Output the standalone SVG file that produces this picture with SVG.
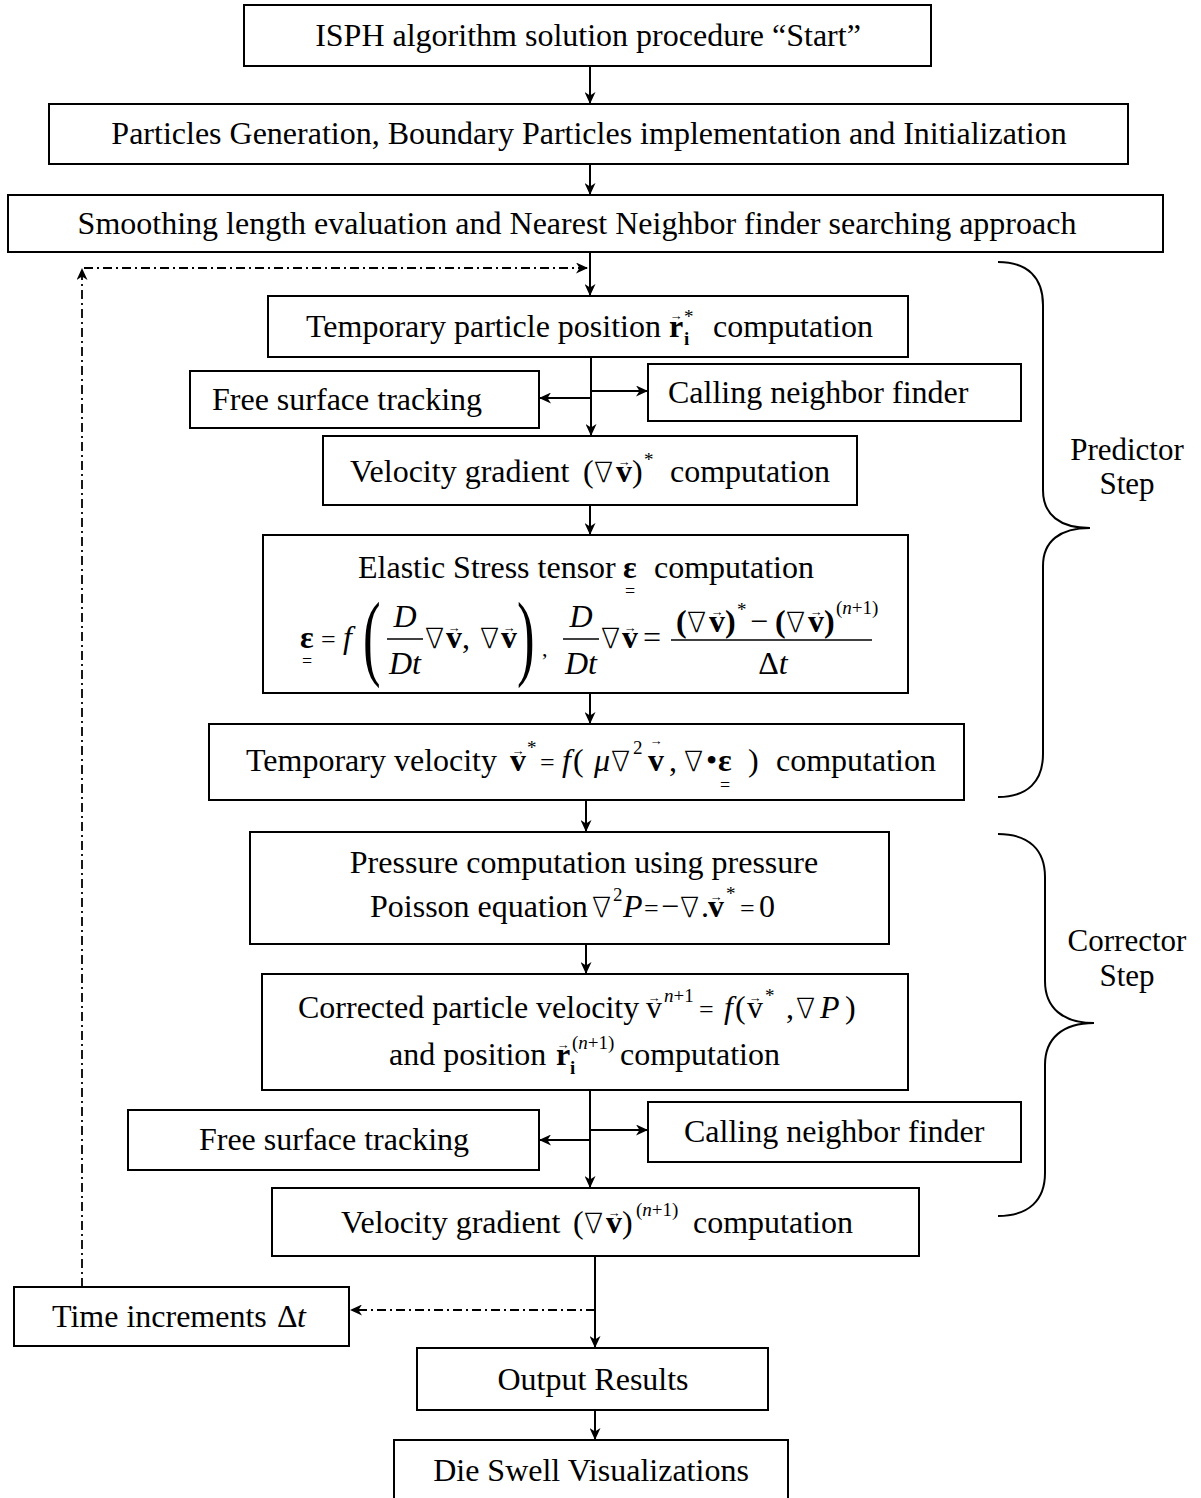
<svg xmlns="http://www.w3.org/2000/svg" width="1201" height="1498" viewBox="0 0 1201 1498">
<defs>
<style>
.box{fill:#fff;stroke:#000;stroke-width:2}
.t{font-family:"Liberation Serif","Times New Roman","DejaVu Serif",serif;font-size:32px;fill:#000}
.m{text-anchor:middle}
.s{font-size:19px}
.b{font-weight:bold}
.i{font-style:italic}
.u{font-size:18px;text-anchor:middle}
.q{font-size:26px}
.nb{font-family:"DejaVu Sans","DejaVu Serif",sans-serif;font-weight:200;font-size:28px}
.acc{font-family:"Liberation Serif","DejaVu Serif",serif;font-size:13px;font-weight:normal;font-style:normal;text-anchor:middle}
.lab{font-size:31px}
.c{fill:none;stroke:#000;stroke-width:2}
.dd{stroke-dasharray:9 4 2 4;stroke-width:1.8}
.bar{stroke:#000;stroke-width:1.5}
.brace{fill:none;stroke:#000;stroke-width:2}
</style>
<marker id="ah" viewBox="0 0 12 11" refX="12" refY="5.5" markerWidth="12" markerHeight="11" markerUnits="userSpaceOnUse" orient="auto"><path d="M0,0 L12,5.5 L0,11 L3.5,5.5 Z" fill="#000"/></marker>
</defs>
<rect x="0" y="0" width="1201" height="1498" fill="#fff"/>

<g id="connectors">
<path class="c" d="M590,66 V104" marker-end="url(#ah)"/>
<path class="c" d="M590,164 V195" marker-end="url(#ah)"/>
<path class="c" d="M590,252 V296" marker-end="url(#ah)"/>
<path class="c" d="M591,357 V436" marker-end="url(#ah)"/>
<path class="c" d="M591,391 H648" marker-end="url(#ah)"/>
<path class="c" d="M591,398 H539" marker-end="url(#ah)"/>
<path class="c" d="M590,505 V535" marker-end="url(#ah)"/>
<path class="c" d="M590,693 V724" marker-end="url(#ah)"/>
<path class="c" d="M586,800 V832" marker-end="url(#ah)"/>
<path class="c" d="M586,944 V974" marker-end="url(#ah)"/>
<path class="c" d="M590,1090 V1188" marker-end="url(#ah)"/>
<path class="c" d="M590,1130 H648" marker-end="url(#ah)"/>
<path class="c" d="M590,1140 H539" marker-end="url(#ah)"/>
<path class="c" d="M595,1256 V1348" marker-end="url(#ah)"/>
<path class="c" d="M595,1410 V1440" marker-end="url(#ah)"/>
<path class="c dd" d="M595,1310 H350" marker-end="url(#ah)"/>
<path class="c dd" d="M82,1287 V268" marker-end="url(#ah)"/>
<path class="c dd" d="M84,268 H588" marker-end="url(#ah)"/>
</g>

<g id="n1">
<rect class="box" x="244" y="5" width="687" height="61"/>
<text class="t m" x="588" y="46">ISPH algorithm solution procedure “Start”</text>
</g>
<g id="n2">
<rect class="box" x="49" y="104" width="1079" height="60"/>
<text class="t m" x="589" y="144">Particles Generation, Boundary Particles implementation and Initialization</text>
</g>
<g id="n3">
<rect class="box" x="8" y="195" width="1155" height="57"/>
<text class="t m" x="577" y="234">Smoothing length evaluation and Nearest Neighbor finder searching approach</text>
</g>
<g id="n4">
<rect class="box" x="268" y="296" width="640" height="61"/>
<text class="t" y="337"><tspan x="306">Temporary particle position</tspan><tspan x="669" class="b">r</tspan><tspan x="676" y="320" class="acc">→</tspan><tspan x="684" y="345" class="s b">i</tspan><tspan x="684" y="323" class="s">*</tspan><tspan x="713" y="337">computation</tspan></text>
</g>
<g id="n5">
<rect class="box" x="190" y="371" width="349" height="57"/>
<text class="t" x="212" y="410">Free surface tracking</text>
</g>
<g id="n6">
<rect class="box" x="648" y="364" width="373" height="57"/>
<text class="t" x="668" y="403">Calling neighbor finder</text>
</g>
<g id="n7">
<rect class="box" x="323" y="436" width="534" height="69"/>
<text class="t" y="482"><tspan x="350">Velocity gradient</tspan><tspan x="583">(</tspan><tspan x="594" class="nb">∇</tspan><tspan x="616" class="b">v</tspan><tspan x="624" y="466" class="acc">→</tspan><tspan x="632" y="482">)</tspan><tspan x="644" y="466" class="s">*</tspan><tspan x="670" y="482">computation</tspan></text>
</g>
<g id="n8">
<rect class="box" x="263" y="535" width="645" height="158"/>
<text class="t" y="578"><tspan x="358">Elastic Stress tensor</tspan><tspan x="623" class="b">ε</tspan><tspan x="630" y="597" class="u">=</tspan><tspan x="654" y="578">computation</tspan></text>
<text class="t" y="648"><tspan x="300" class="b">ε</tspan><tspan x="307" y="667" class="u">=</tspan><tspan x="321" y="648" class="q">=</tspan><tspan x="343" class="i">f</tspan><tspan x="425" class="nb">∇</tspan><tspan x="446" class="b">v</tspan><tspan x="454" y="632" class="acc">→</tspan><tspan x="462" y="648">,</tspan><tspan x="480" class="nb">∇</tspan><tspan x="501" class="b">v</tspan><tspan x="509" y="632" class="acc">→</tspan><tspan x="601" y="648" class="nb">∇</tspan><tspan x="622" class="b">v</tspan><tspan x="630" y="632" class="acc">→</tspan><tspan x="643" y="648">=</tspan></text>
<text class="t" transform="translate(363,668) scale(0.55,1)" style="font-size:96px">(</text>
<text class="t" transform="translate(517,668) scale(0.55,1)" style="font-size:96px">)</text>
<text class="t" x="542" y="656" style="font-size:22px">,</text>
<text class="t m i" x="405" y="627">D</text>
<line class="bar" x1="387" y1="639" x2="423" y2="639"/>
<text class="t m i" x="405" y="674">Dt</text>
<text class="t m i" x="581" y="627">D</text>
<line class="bar" x1="563" y1="639" x2="599" y2="639"/>
<text class="t m i" x="581" y="674">Dt</text>
<text class="t" y="632"><tspan x="676" class="b">(</tspan><tspan x="687" class="nb">∇</tspan><tspan x="709" class="b">v</tspan><tspan x="717" y="616" class="acc">→</tspan><tspan x="725" y="632" class="b">)</tspan><tspan x="737" y="616" class="s">*</tspan><tspan x="750" y="632">−</tspan><tspan x="775" class="b">(</tspan><tspan x="786" class="nb">∇</tspan><tspan x="808" class="b">v</tspan><tspan x="816" y="616" class="acc">→</tspan><tspan x="824" y="632" class="b">)</tspan><tspan x="836" y="614" class="s">(<tspan class="i">n</tspan>+1)</tspan></text>
<line class="bar" x1="671" y1="640" x2="872" y2="640"/>
<text class="t m" x="773" y="674">Δ<tspan class="i">t</tspan></text>
</g>
<g id="n9">
<rect class="box" x="209" y="724" width="755" height="76"/>
<text class="t" y="771"><tspan x="246">Temporary velocity</tspan><tspan x="510" class="b">v</tspan><tspan x="518" y="755" class="acc">→</tspan><tspan x="527" y="754" class="s">*</tspan><tspan x="540" y="771" class="q">=</tspan><tspan x="562" class="i">f</tspan><tspan x="573">(</tspan><tspan x="594" class="i">μ</tspan><tspan x="611" class="nb">∇</tspan><tspan x="633" y="754" class="s">2</tspan><tspan x="648" y="771" class="b">v</tspan><tspan x="656" y="745" class="acc">→</tspan><tspan x="669" y="771">,</tspan><tspan x="684" class="nb">∇</tspan><tspan x="706">•</tspan><tspan x="718" class="b">ε</tspan><tspan x="725" y="791" class="u">=</tspan><tspan x="748" y="771">)</tspan><tspan x="776">computation</tspan></text>
</g>
<g id="n10">
<rect class="box" x="250" y="832" width="639" height="112"/>
<text class="t m" x="584" y="873">Pressure computation using pressure</text>
<text class="t" y="917"><tspan x="370">Poisson equation</tspan><tspan x="592" class="nb">∇</tspan><tspan x="613" y="901" class="s">2</tspan><tspan x="623" y="917" class="i">P</tspan><tspan x="644" class="q">=</tspan><tspan x="661">−</tspan><tspan x="680" class="nb">∇</tspan><tspan x="701">.</tspan><tspan x="708" class="b">v</tspan><tspan x="716" y="901" class="acc">→</tspan><tspan x="726" y="900" class="s">*</tspan><tspan x="740" y="917" class="q">=</tspan><tspan x="759">0</tspan></text>
</g>
<g id="n11">
<rect class="box" x="262" y="974" width="646" height="116"/>
<text class="t" y="1018"><tspan x="298">Corrected particle velocity</tspan><tspan x="646">v</tspan><tspan x="654" y="1002" class="acc">→</tspan><tspan x="664" y="1002" class="s"><tspan class="i">n</tspan>+1</tspan><tspan x="699" y="1018" class="q">=</tspan><tspan x="724" class="i">f</tspan><tspan x="735">(</tspan><tspan x="747">v</tspan><tspan x="755" y="1002" class="acc">→</tspan><tspan x="765" y="1002" class="s">*</tspan><tspan x="786" y="1018">,</tspan><tspan x="796" class="nb">∇</tspan><tspan x="820" class="i">P</tspan><tspan x="845">)</tspan></text>
<text class="t" y="1065"><tspan x="389">and position</tspan><tspan x="556" class="b">r</tspan><tspan x="563" y="1049" class="acc">→</tspan><tspan x="570" y="1074" class="s b">i</tspan><tspan x="572" y="1049" class="s">(<tspan class="i">n</tspan>+1)</tspan><tspan x="620" y="1065">computation</tspan></text>
</g>
<g id="n12">
<rect class="box" x="128" y="1110" width="411" height="60"/>
<text class="t m" x="334" y="1150">Free surface tracking</text>
</g>
<g id="n13">
<rect class="box" x="648" y="1102" width="373" height="60"/>
<text class="t" x="684" y="1142">Calling neighbor finder</text>
</g>
<g id="n14">
<rect class="box" x="272" y="1188" width="647" height="68"/>
<text class="t" y="1233"><tspan x="341">Velocity gradient</tspan><tspan x="573">(</tspan><tspan x="584" class="nb">∇</tspan><tspan x="606" class="b">v</tspan><tspan x="614" y="1217" class="acc">→</tspan><tspan x="622" y="1233">)</tspan><tspan x="636" y="1216" class="s">(<tspan class="i">n</tspan>+1)</tspan><tspan x="693" y="1233">computation</tspan></text>
</g>
<g id="n15">
<rect class="box" x="14" y="1287" width="335" height="59"/>
<text class="t" y="1327"><tspan x="52">Time increments</tspan><tspan x="277">Δ</tspan><tspan x="297" class="i">t</tspan></text>
</g>
<g id="n16">
<rect class="box" x="417" y="1348" width="351" height="62"/>
<text class="t m" x="593" y="1390">Output Results</text>
</g>
<g id="n17">
<rect class="box" x="394" y="1440" width="394" height="70"/>
<text class="t m" x="591" y="1481">Die Swell Visualizations</text>
</g>
<g id="predictor">
<path class="brace" d="M998,262 C1028,262 1043,278 1043,305 L1043,490 C1043,515 1060,528 1090,528 C1060,528 1043,541 1043,566 L1043,754 C1043,781 1028,797 998,797"/>
<text class="t m lab" x="1127" y="460">Predictor</text>
<text class="t m lab" x="1127" y="494">Step</text>
</g>
<g id="corrector">
<path class="brace" d="M998,834 C1029,834 1045,850 1045,877 L1045,981 C1045,1008 1063,1023 1094,1023 C1063,1023 1045,1038 1045,1065 L1045,1173 C1045,1200 1029,1216 998,1216"/>
<text class="t m lab" x="1127" y="951">Corrector</text>
<text class="t m lab" x="1127" y="986">Step</text>
</g>
</svg>
